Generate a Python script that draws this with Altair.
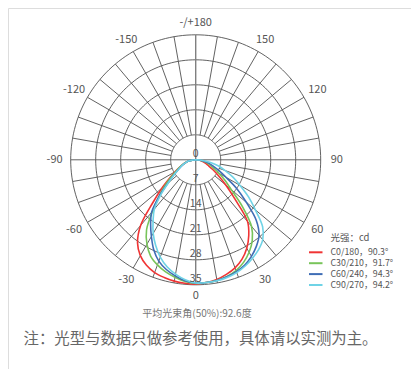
import altair as alt
import pandas as pd

# ---- data ----
angles = list(range(-90, 95, 5))  # gamma angle, 0 = straight down, + = right side

c0_180 = [0, 1.0, 2.0, 2.9, 3.8, 5.0, 6.6, 8.8, 12.3, 17.0, 24.0, 28.4, 31.0, 32.6, 33.6, 34.1, 34.5, 34.7,
          34.8,
          34.5, 34.0, 33.2, 32.2, 30.7, 28.6, 25.9, 22.6, 15.5, 11.0, 7.8, 5.6, 4.0, 3.0, 2.2, 1.5, 0.8, 0]
c30_210 = [0, 1.0, 2.0, 2.9, 3.8, 4.9, 6.3, 8.3, 11.2, 14.5, 18.8, 24.0, 27.3, 29.8, 31.3, 32.5, 33.4, 34.2,
           34.6,
           34.5, 34.3, 33.8, 33.0, 31.7, 29.9, 27.6, 24.3, 18.5, 13.0, 10.0, 7.5, 5.5, 4.3, 3.3, 2.3, 1.2, 0]
c60_240 = [0, 1.0, 2.0, 2.8, 3.6, 4.6, 5.8, 7.6, 10.2, 14.5, 19.2, 22.0, 24.8, 27.8, 30.2, 31.8, 33.0, 34.0,
           34.5,
           34.5, 34.3, 33.9, 33.3, 32.5, 31.2, 29.6, 27.6, 24.0, 18.5, 14.0, 9.8, 7.2, 5.2, 3.9, 2.6, 1.3, 0]
c90_270 = [0, 1.0, 2.0, 2.8, 3.6, 4.6, 5.8, 7.5, 10.0, 13.8, 18.0, 20.8, 23.8, 26.5, 29.0, 31.0, 32.5, 33.7,
           34.5,
           34.5, 34.4, 34.1, 33.6, 32.8, 31.8, 30.7, 29.2, 26.5, 21.8, 18.0, 14.3, 11.5, 8.8, 6.5, 4.0, 2.0, 0]

series_names = ["C0/180", "C30/210", "C60/240", "C90/270"]
series_labels = ["C0/180，90.3°", "C30/210，91.7°", "C60/240，94.3°", "C90/270，94.2°"]
series_colors = ["#f03434", "#78c45a", "#3f6db5", "#6fd3e6"]

ring_values = [7, 14, 21, 28, 35]
ring_label_values = [0, 7, 14, 21, 28, 35]
angle_ticks = [0, 30, 60, 90, 120, 150, 180, -150, -120, -90, -60, -30]
angle_tick_labels = ["0", "30", "60", "90", "120", "150", "-/+180", "-150", "-120", "-90", "-60", "-30"]
spoke_step = 10

legend_title = "光强：cd"
beam_text = "平均光束角(50%):92.6度"
note_text = "注：光型与数据只做参考使用，具体请以实测为主。"

# ---- layout helpers (page pixels -> data units) ----
K = 125 / 35.0
CX, CY = 195.7, 159.8
W, H = 403, 361


def to_x(px):
    return (px - CX) / K


def to_y(py):
    return (CY - py) / K


FONT = "Noto Sans CJK SC"
xs = alt.Scale(domain=[to_x(8), to_x(8 + W)], nice=False, zero=False)
ys = alt.Scale(domain=[to_y(8 + H), to_y(8)], nice=False, zero=False)
X = lambda f: alt.X(f, type="quantitative", scale=xs, axis=None)
Y = lambda f: alt.Y(f, type="quantitative", scale=ys, axis=None)

# ---- tables ----
rows = []
for name, vals in zip(series_names, [c0_180, c30_210, c60_240, c90_270]):
    for a, v in zip(angles, vals):
        rows.append({"series": name, "angle": a, "value": v})
curves = pd.DataFrame(rows)

ring_rows = []
for r in ring_values:
    for t in range(0, 361, 2):
        ring_rows.append({"ring": r, "t": t, "r": r})
rings = pd.DataFrame(ring_rows)

spokes = pd.DataFrame({"a": list(range(0, 360, spoke_step))})
spokes["r0"] = spokes["a"].apply(lambda a: 0 if a % 90 == 0 else ring_values[0])
spokes["r1"] = ring_values[-1]

ticks = pd.DataFrame({"a": angle_ticks, "label": angle_tick_labels})
ring_lbl = pd.DataFrame({"v": ring_label_values, "label": [str(v) for v in ring_label_values]})

leg = pd.DataFrame({"series": series_names, "label": series_labels, "i": range(4)})
leg["y"] = leg["i"].apply(lambda i: to_y(252.3 + i * 10.9))
leg["x0"] = to_x(309)
leg["x1"] = to_x(322.5)
leg["xt"] = to_x(330.5)

color = alt.Color("series:N", scale=alt.Scale(domain=series_names, range=series_colors), legend=None)

# ---- layers ----
ring_layer = alt.Chart(rings).transform_calculate(
    x="datum.r*sin(datum.t*PI/180)", y="-datum.r*cos(datum.t*PI/180)"
).mark_line(color="#505050", strokeWidth=0.9).encode(
    x=X("x"), y=Y("y"), detail="ring:N", order="t:Q")

spoke_layer = alt.Chart(spokes).transform_filter("datum.a != 0 && datum.a != 180").transform_calculate(
    x="datum.r0*sin(datum.a*PI/180)", y="-datum.r0*cos(datum.a*PI/180)",
    x2="datum.r1*sin(datum.a*PI/180)", y2="-datum.r1*cos(datum.a*PI/180)"
).mark_rule(color="#505050", strokeWidth=0.9).encode(
    x=X("x"), y=Y("y"), x2="x2:Q", y2="y2:Q")

vert_layer = alt.Chart(spokes).transform_filter("datum.a == 0 || datum.a == 180").transform_calculate(
    x="datum.r0*sin(datum.a*PI/180)", y="-datum.r0*cos(datum.a*PI/180)",
    x2="datum.r1*sin(datum.a*PI/180)", y2="-datum.r1*cos(datum.a*PI/180)"
).mark_rule(color="#808080", strokeWidth=1.4).encode(
    x=X("x"), y=Y("y"), x2="x2:Q", y2="y2:Q")

curve_layer = alt.Chart(curves).transform_calculate(
    x="datum.value*sin(datum.angle*PI/180)", y="-datum.value*cos(datum.angle*PI/180)"
).mark_line(strokeWidth=1.6, interpolate="catmull-rom").encode(
    x=X("x"), y=Y("y"), color=color, order="angle:Q")

tick_layer = alt.Chart(ticks).transform_calculate(
    rr="38.2 + 1.3*abs(sin(datum.a*PI/180))",
    x="datum.rr*sin(datum.a*PI/180)", y="-datum.rr*cos(datum.a*PI/180)"
).mark_text(font=FONT, fontSize=11, color="#555555", align="center", baseline="middle").encode(
    x=X("x"), y=Y("y"), text="label:N")

ring_lbl_layer = alt.Chart(ring_lbl).transform_calculate(
    x="0", y="-datum.v"
).mark_text(font=FONT, fontSize=10.5, color="#555555", align="center", baseline="middle", dy=-6).encode(
    x=X("x"), y=Y("y"), text="label:N")

leg_rule = alt.Chart(leg).mark_rule(strokeWidth=2).encode(
    x=X("x0"), x2="x1:Q", y=Y("y"), color=color)
leg_text = alt.Chart(leg).mark_text(font=FONT, fontSize=8.8, color="#555555", align="left",
                                    baseline="middle").encode(x=X("xt"), y=Y("y"), text="label:N")

notes = pd.DataFrame({
    "t": [legend_title, beam_text, note_text],
    "x": [to_x(330.5), to_x(197), to_x(200.5)],
    "y": [to_y(238), to_y(314), to_y(339)],
    "size": [9.5, 10, 15.4],
    "al": ["left", "center", "center"],
    "col": ["#555555", "#777777", "#666666"],
})
note_layers = []
for _, r in notes.iterrows():
    note_layers.append(alt.Chart(notes[notes["t"] == r["t"]]).mark_text(
        font=FONT, fontSize=float(r["size"]), color=r["col"], align=r["al"], baseline="middle"
    ).encode(x=X("x"), y=Y("y"), text="t:N"))

chart = alt.layer(
    ring_layer, spoke_layer, vert_layer, curve_layer, tick_layer, ring_lbl_layer,
    leg_rule, leg_text, *note_layers
).properties(
    width=W, height=H, autosize=alt.AutoSizeParams(type="none"), padding=0
).configure_view(stroke=None).configure(background="white")

chart.save("out.html", embed_options={"renderer": "svg", "actions": False})
